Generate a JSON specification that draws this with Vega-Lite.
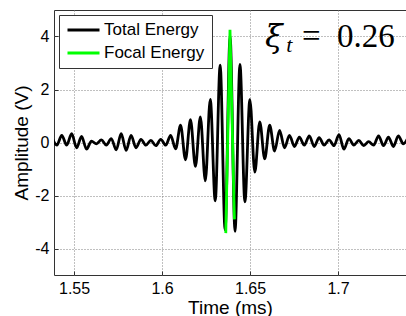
{
  "$schema": "https://vega.github.io/schema/vega-lite/v6.json",
  "width": 352,
  "height": 265,
  "autosize": {"type": "none"},
  "padding": {"left": 54, "top": 10, "right": 0, "bottom": 41},
  "background": "white",
  "config": {
    "font": "Liberation Sans",
    "view": {"stroke": "#333333", "strokeWidth": 1},
    "axis": {
      "domain": false,
      "grid": true,
      "gridColor": "#808080",
      "gridDash": [1, 2],
      "gridWidth": 1,
      "ticks": true,
      "tickSize": -4,
      "tickColor": "#333333",
      "labelFont": "Liberation Sans",
      "labelFontSize": 16,
      "labelColor": "#000000",
      "titleFont": "Liberation Sans",
      "titleFontSize": 19,
      "titleFontWeight": "normal",
      "titleColor": "#000000"
    },
    "legend": {
      "orient": "none",
      "legendX": 5,
      "legendY": 5,
      "fillColor": "white",
      "strokeColor": "#333333",
      "padding": 7,
      "labelFont": "Liberation Sans",
      "labelFontSize": 17,
      "labelColor": "#000000",
      "labelOffset": 3,
      "rowPadding": 6,
      "clipHeight": 16,
      "symbolType": "stroke",
      "symbolSize": 1024,
      "symbolStrokeWidth": 2.8
    }
  },
  "datasets": {
    "sig": [
      {"t": 1.5374, "v": 0.2, "series": "Total Energy"},
      {"t": 1.5402, "v": -0.1, "series": "Total Energy"},
      {"t": 1.54301, "v": 0.27, "series": "Total Energy"},
      {"t": 1.54582, "v": -0.1, "series": "Total Energy"},
      {"t": 1.54864, "v": 0.33, "series": "Total Energy"},
      {"t": 1.55145, "v": -0.2, "series": "Total Energy"},
      {"t": 1.55426, "v": 0.23, "series": "Total Energy"},
      {"t": 1.55707, "v": -0.25, "series": "Total Energy"},
      {"t": 1.55989, "v": 0.05, "series": "Total Energy"},
      {"t": 1.5627, "v": -0.05, "series": "Total Energy"},
      {"t": 1.56551, "v": 0.1, "series": "Total Energy"},
      {"t": 1.56832, "v": -0.1, "series": "Total Energy"},
      {"t": 1.57114, "v": 0.15, "series": "Total Energy"},
      {"t": 1.57395, "v": -0.28, "series": "Total Energy"},
      {"t": 1.57676, "v": 0.33, "series": "Total Energy"},
      {"t": 1.57957, "v": -0.3, "series": "Total Energy"},
      {"t": 1.58239, "v": 0.27, "series": "Total Energy"},
      {"t": 1.5852, "v": -0.2, "series": "Total Energy"},
      {"t": 1.58801, "v": 0.12, "series": "Total Energy"},
      {"t": 1.59082, "v": -0.1, "series": "Total Energy"},
      {"t": 1.59364, "v": 0.08, "series": "Total Energy"},
      {"t": 1.59645, "v": -0.12, "series": "Total Energy"},
      {"t": 1.59926, "v": 0.12, "series": "Total Energy"},
      {"t": 1.60207, "v": -0.1, "series": "Total Energy"},
      {"t": 1.60489, "v": 0.27, "series": "Total Energy"},
      {"t": 1.6077, "v": -0.24, "series": "Total Energy"},
      {"t": 1.61051, "v": 0.65, "series": "Total Energy"},
      {"t": 1.61332, "v": -0.65, "series": "Total Energy"},
      {"t": 1.61614, "v": 0.86, "series": "Total Energy"},
      {"t": 1.61895, "v": -0.9, "series": "Total Energy"},
      {"t": 1.62176, "v": 0.97, "series": "Total Energy"},
      {"t": 1.62457, "v": -1.45, "series": "Total Energy"},
      {"t": 1.62739, "v": 1.63, "series": "Total Energy"},
      {"t": 1.6302, "v": -2.2, "series": "Total Energy"},
      {"t": 1.63301, "v": 2.92, "series": "Total Energy"},
      {"t": 1.63582, "v": -3.3, "series": "Total Energy"},
      {"t": 1.63864, "v": 4.0, "series": "Total Energy"},
      {"t": 1.64145, "v": -3.35, "series": "Total Energy"},
      {"t": 1.64426, "v": 2.95, "series": "Total Energy"},
      {"t": 1.64707, "v": -2.24, "series": "Total Energy"},
      {"t": 1.64989, "v": 1.62, "series": "Total Energy"},
      {"t": 1.6527, "v": -1.12, "series": "Total Energy"},
      {"t": 1.65551, "v": 0.78, "series": "Total Energy"},
      {"t": 1.65832, "v": -0.62, "series": "Total Energy"},
      {"t": 1.66114, "v": 0.65, "series": "Total Energy"},
      {"t": 1.66395, "v": -0.32, "series": "Total Energy"},
      {"t": 1.66676, "v": 0.46, "series": "Total Energy"},
      {"t": 1.66957, "v": -0.2, "series": "Total Energy"},
      {"t": 1.67239, "v": 0.27, "series": "Total Energy"},
      {"t": 1.6752, "v": -0.15, "series": "Total Energy"},
      {"t": 1.67801, "v": 0.2, "series": "Total Energy"},
      {"t": 1.68082, "v": -0.1, "series": "Total Energy"},
      {"t": 1.68364, "v": 0.25, "series": "Total Energy"},
      {"t": 1.68645, "v": -0.15, "series": "Total Energy"},
      {"t": 1.68926, "v": 0.18, "series": "Total Energy"},
      {"t": 1.69207, "v": -0.1, "series": "Total Energy"},
      {"t": 1.69489, "v": 0.1, "series": "Total Energy"},
      {"t": 1.6977, "v": -0.12, "series": "Total Energy"},
      {"t": 1.70051, "v": 0.3, "series": "Total Energy"},
      {"t": 1.70332, "v": -0.25, "series": "Total Energy"},
      {"t": 1.70614, "v": 0.15, "series": "Total Energy"},
      {"t": 1.70895, "v": -0.1, "series": "Total Energy"},
      {"t": 1.71176, "v": 0.08, "series": "Total Energy"},
      {"t": 1.71457, "v": -0.12, "series": "Total Energy"},
      {"t": 1.71739, "v": 0.03, "series": "Total Energy"},
      {"t": 1.7202, "v": -0.1, "series": "Total Energy"},
      {"t": 1.72301, "v": 0.25, "series": "Total Energy"},
      {"t": 1.72582, "v": -0.12, "series": "Total Energy"},
      {"t": 1.72864, "v": 0.2, "series": "Total Energy"},
      {"t": 1.73145, "v": -0.15, "series": "Total Energy"},
      {"t": 1.73426, "v": 0.25, "series": "Total Energy"},
      {"t": 1.73707, "v": -0.05, "series": "Total Energy"},
      {"t": 1.7399, "v": 0.2, "series": "Total Energy"}
    ],
    "focal": [
      {"t": 1.6362, "v": -3.42, "series": "Focal Energy"},
      {"t": 1.6386, "v": 4.25, "series": "Focal Energy"},
      {"t": 1.6411, "v": -2.9, "series": "Focal Energy"}
    ],
    "ann": [
      {"t": 1.6585, "v": 3.62, "part": "xi", "txt": "ξ"},
      {"t": 1.6706, "v": 3.4, "part": "sub", "txt": "t"},
      {"t": 1.67955, "v": 3.62, "part": "eq", "txt": "="},
      {"t": 1.69943, "v": 3.62, "part": "num", "txt": "0.26"}
    ]
  },
  "layer": [
    {
      "data": {"name": "sig"},
      "mark": {"type": "line", "interpolate": "monotone", "strokeWidth": 2.8, "clip": true},
      "encoding": {
        "x": {
          "field": "t", "type": "quantitative",
          "scale": {"domain": [1.5386, 1.7386], "zero": false, "nice": false},
          "axis": {"title": "Time (ms)", "values": [1.55, 1.6, 1.65, 1.7], "labelExpr": "'' + datum.value", "labelPadding": 9, "titlePadding": 2}
        },
        "y": {
          "field": "v", "type": "quantitative",
          "scale": {"domain": [-5, 5], "zero": false, "nice": false},
          "axis": {"title": "Amplitude (V)", "values": [-4, -2, 0, 2, 4], "labelExpr": "'' + datum.value", "labelPadding": 9, "titlePadding": 3}
        },
        "color": {
          "field": "series", "type": "nominal",
          "scale": {"domain": ["Total Energy", "Focal Energy"], "range": ["#000000", "#00ff00"]},
          "legend": {"title": null}
        }
      }
    },
    {
      "data": {"name": "focal"},
      "mark": {"type": "line", "strokeWidth": 2.8, "clip": true},
      "encoding": {
        "x": {"field": "t", "type": "quantitative"},
        "y": {"field": "v", "type": "quantitative"},
        "color": {"field": "series", "type": "nominal"}
      }
    },
    {
      "data": {"name": "ann"},
      "transform": [{"filter": "datum.part === 'xi'"}],
      "mark": {"type": "text", "font": "DejaVu Serif", "fontStyle": "italic", "fontSize": 32, "align": "left", "baseline": "alphabetic", "color": "#000000"},
      "encoding": {
        "x": {"field": "t", "type": "quantitative"},
        "y": {"field": "v", "type": "quantitative"},
        "text": {"field": "txt"}
      }
    },
    {
      "data": {"name": "ann"},
      "transform": [{"filter": "datum.part === 'sub'"}],
      "mark": {"type": "text", "font": "Liberation Serif", "fontStyle": "italic", "fontSize": 22, "align": "left", "baseline": "alphabetic", "color": "#000000"},
      "encoding": {
        "x": {"field": "t", "type": "quantitative"},
        "y": {"field": "v", "type": "quantitative"},
        "text": {"field": "txt"}
      }
    },
    {
      "data": {"name": "ann"},
      "transform": [{"filter": "datum.part === 'eq'"}],
      "mark": {"type": "text", "font": "Liberation Serif", "fontSize": 33, "align": "left", "baseline": "alphabetic", "color": "#000000"},
      "encoding": {
        "x": {"field": "t", "type": "quantitative"},
        "y": {"field": "v", "type": "quantitative"},
        "text": {"field": "txt"}
      }
    },
    {
      "data": {"name": "ann"},
      "transform": [{"filter": "datum.part === 'num'"}],
      "mark": {"type": "text", "font": "Liberation Serif", "fontSize": 33, "align": "left", "baseline": "alphabetic", "color": "#000000"},
      "encoding": {
        "x": {"field": "t", "type": "quantitative"},
        "y": {"field": "v", "type": "quantitative"},
        "text": {"field": "txt"}
      }
    }
  ]
}
